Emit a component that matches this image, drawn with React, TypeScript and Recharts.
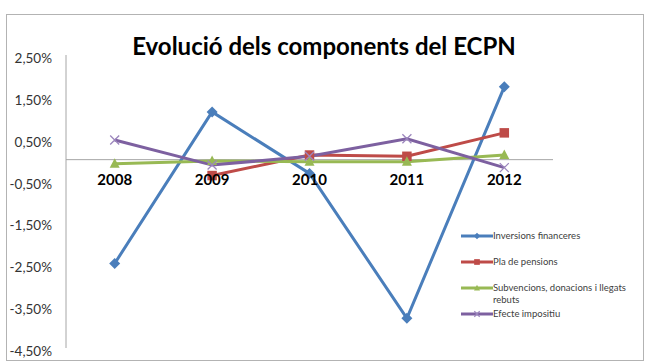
import { LineChart, Line, XAxis, YAxis, ReferenceLine, ReferenceDot, Legend } from 'recharts';

const years = ['2008', '2009', '2010', '2011', '2012'];
const inversions = [-2.48, 1.14, -0.33, -3.79, 1.74];
const plaPensions = [null, -0.38, 0.11, 0.08, 0.64];
const subvencions = [-0.1, -0.03, -0.05, -0.05, 0.11];
const efecte = [0.47, -0.13, 0.08, 0.5, -0.19];
const yTicks = [2.5, 1.5, 0.5, -0.5, -1.5, -2.5, -3.5, -4.5];

const series = [
  { key: 'inv', name: 'Inversions financeres', color: '#4A7EBB', marker: 'diamond' },
  { key: 'pla', name: 'Pla de pensions', color: '#BE4B48', marker: 'square' },
  { key: 'sub', name: 'Subvencions, donacions i llegats rebuts', color: '#98B954', marker: 'triangle' },
  { key: 'efe', name: 'Efecte impositiu', color: '#7D60A0', marker: 'x' },
];

const data = years.map((year, i) => ({
  year,
  inv: inversions[i],
  pla: plaPensions[i],
  sub: subvencions[i],
  efe: efecte[i],
}));

const font = 'Lato, "Open Sans", sans-serif';

const fmt = (v: number) => v.toFixed(2).replace('.', ',') + '%';

const Marker = ({ type, cx, cy, color, scale = 1 }: any) => {
  if (cx == null || cy == null) return <g />;
  if (type === 'diamond') {
    const r = 5.5 * scale;
    return <path d={`M${cx},${cy - r}L${cx + r},${cy}L${cx},${cy + r}L${cx - r},${cy}Z`} fill={color} />;
  }
  if (type === 'square') {
    const s = 9.5 * scale;
    return <rect x={cx - s / 2} y={cy - s / 2} width={s} height={s} fill={color} />;
  }
  if (type === 'triangle') {
    const s = 10 * scale;
    return (
      <path d={`M${cx},${cy - s * 0.55}L${cx + s / 2},${cy + s * 0.4}L${cx - s / 2},${cy + s * 0.4}Z`} fill={color} />
    );
  }
  const r = 4.5 * scale;
  return (
    <path
      d={`M${cx - r},${cy - r}L${cx + r},${cy + r}M${cx - r},${cy + r}L${cx + r},${cy - r}`}
      stroke="#9C86BD"
      strokeWidth={1.3}
      fill="none"
    />
  );
};

const YTick = ({ x, y, payload }: any) => (
  <text x={x} y={y + 3} textAnchor="end" dominantBaseline="central" fontSize={13.5} fill="#333" fontFamily={font}>
    {fmt(payload.value)}
  </text>
);

const renderLegend = ({ payload }: any) => {
  const entries = [...(payload || [])].sort(
    (a: any, b: any) => series.findIndex((s) => s.name === a.value) - series.findIndex((s) => s.name === b.value)
  );
  return (
    <div style={{ fontFamily: font, fontSize: 9.5, color: '#404040' }}>
      {entries.map((entry: any) => {
        const s = series.find((x) => x.name === entry.value)!;
        return (
          <div key={entry.value} style={{ display: 'flex', alignItems: 'flex-start', height: 26 }}>
            <svg width={32} height={12} style={{ flex: 'none' }}>
              <line x1={0} y1={6} x2={32} y2={6} stroke={s.color} strokeWidth={3} />
              <Marker type={s.marker} cx={16} cy={6} color={s.color} scale={0.6} />
            </svg>
            <span style={{ width: 145, lineHeight: '12px' }}>{entry.value}</span>
          </div>
        );
      })}
    </div>
  );
};

export default function App() {
  return (
    <div style={{ position: 'absolute', left: 0, top: 0, width: 658, height: 361, background: '#fff' }}>
      <LineChart width={658} height={361} data={data} margin={{ top: 55, right: 105, bottom: 13, left: 6 }}>
        <XAxis dataKey="year" hide padding={{ left: 48.7, right: 48.7 }} />
        <YAxis
          width={60}
          domain={[-4.5, 2.5]}
          ticks={yTicks}
          interval={0}
          axisLine={{ stroke: '#a6a6a6' }}
          tickLine={false}
          tickSize={0}
          tickMargin={14}
          tick={<YTick />}
        />
        <ReferenceLine y={0} stroke="#a6a6a6" strokeWidth={1} />
        {years.map((y) => (
          <ReferenceDot
            key={y}
            x={y}
            y={0}
            r={0}
            fill="none"
            stroke="none"
            label={{ value: y, position: 'bottom', offset: 15, fontSize: 15, fontWeight: 700, fill: '#000', fontFamily: font }}
          />
        ))}
        {series.map((s) => (
          <Line
            key={s.key}
            dataKey={s.key}
            name={s.name}
            type="linear"
            stroke={s.color}
            strokeWidth={3}
            isAnimationActive={false}
            connectNulls={false}
            dot={(p: any) => <Marker key={`${s.key}-${p.index}`} type={s.marker} cx={p.cx} cy={p.cy} color={s.color} />}
            activeDot={false}
          />
        ))}
        <Legend
          layout="horizontal"
          align="center"
          verticalAlign="middle"
          content={renderLegend}
          wrapperStyle={{ left: 461, top: 230, width: 190 }}
        />
      </LineChart>
      <svg width={658} height={361} style={{ position: 'absolute', left: 0, top: 0, pointerEvents: 'none' }}>
        <rect x={6.5} y={14.5} width={637} height={346} fill="none" stroke="#b3b3b3" />
        <text x={324} y={55} textAnchor="middle" fontSize={24} fontWeight={700} fill="#000" fontFamily={font}>
          Evolució dels components del ECPN
        </text>
      </svg>
    </div>
  );
}
